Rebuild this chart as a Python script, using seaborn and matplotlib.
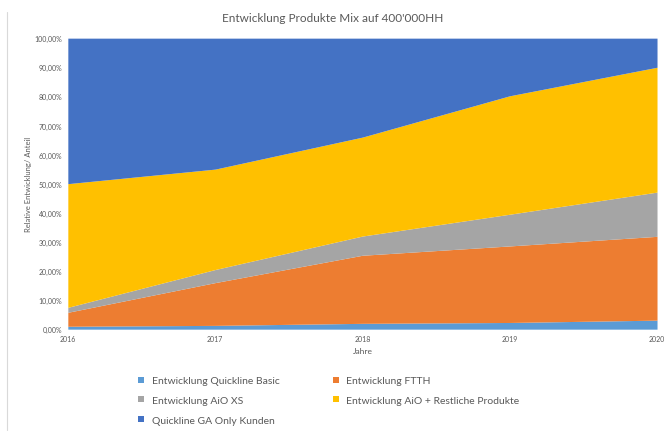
import matplotlib
matplotlib.use("Agg")
import matplotlib.pyplot as plt
import seaborn as sns
import numpy as np
from matplotlib.ticker import FuncFormatter, MultipleLocator
from matplotlib.lines import Line2D

years = [2016, 2017, 2018, 2019, 2020]
series_names = [
    "Entwicklung Quickline Basic",
    "Entwicklung FTTH",
    "Entwicklung AiO XS",
    "Entwicklung AiO + Restliche Produkte",
    "Quickline GA Only Kunden",
]
basic = [0.010, 0.013, 0.020, 0.023, 0.031]
ftth = [0.048, 0.147, 0.234, 0.263, 0.288]
aio_xs = [0.017, 0.045, 0.066, 0.109, 0.152]
aio_rest = [0.425, 0.345, 0.340, 0.407, 0.429]
ga_only = [0.500, 0.450, 0.340, 0.198, 0.100]

title = "Entwicklung Produkte Mix auf 400'000HH"
xlabel = "Jahre"
ylabel = "Relative Entwicklung/ Anteil"

sns.set_theme(style="white")
plt.rcParams["font.family"] = ["Lato", "DejaVu Sans"]
colors = sns.color_palette(["#5B9BD5", "#ED7D31", "#A5A5A5", "#FFC000", "#4472C4"])
txt = "#595959"

fig = plt.figure(figsize=(6.65, 4.35), dpi=100)
ax = fig.add_axes([0.102, 0.241, 0.886, 0.669])
ax.stackplot(years, basic, ftth, aio_xs, aio_rest, ga_only,
             colors=colors, labels=series_names, linewidth=0)
ax.set_xlim(2016, 2020)
ax.set_ylim(0, 1)
ax.yaxis.set_major_locator(MultipleLocator(0.1))
ax.yaxis.set_major_formatter(FuncFormatter(lambda v, p: f"{v*100:.2f}%".replace(".", ",")))
ax.set_xticks(years)
ax.tick_params(axis="both", labelsize=5, colors=txt, length=0, pad=4)
for s in ax.spines.values():
    s.set_visible(False)
ax.set_xlabel(xlabel, fontsize=6, color=txt, labelpad=4)
ax.set_ylabel(ylabel, fontsize=5.5, color=txt, labelpad=2)
fig.text(0.5, 0.958, title, ha="center", va="center", fontsize=8.5, color=txt)

handles = [Line2D([], [], marker="s", linestyle="none", markersize=5,
                  markerfacecolor=c, markeredgewidth=0) for c in colors]
order = [0, 2, 4, 1, 3]
leg = fig.legend([handles[i] for i in order], [series_names[i] for i in order],
                 ncol=2, loc="upper left", bbox_to_anchor=(0.2, 0.143), frameon=False,
                 fontsize=7.5, labelcolor=txt, handlelength=0.8, handletextpad=0.6,
                 columnspacing=5.0, labelspacing=1.0, borderaxespad=0)
# faint chart border at left
fig.add_artist(Line2D([0.011, 0.011], [0.01, 0.97], color="#d9d9d9", linewidth=0.8))
fig.savefig("out.png", dpi=100)
